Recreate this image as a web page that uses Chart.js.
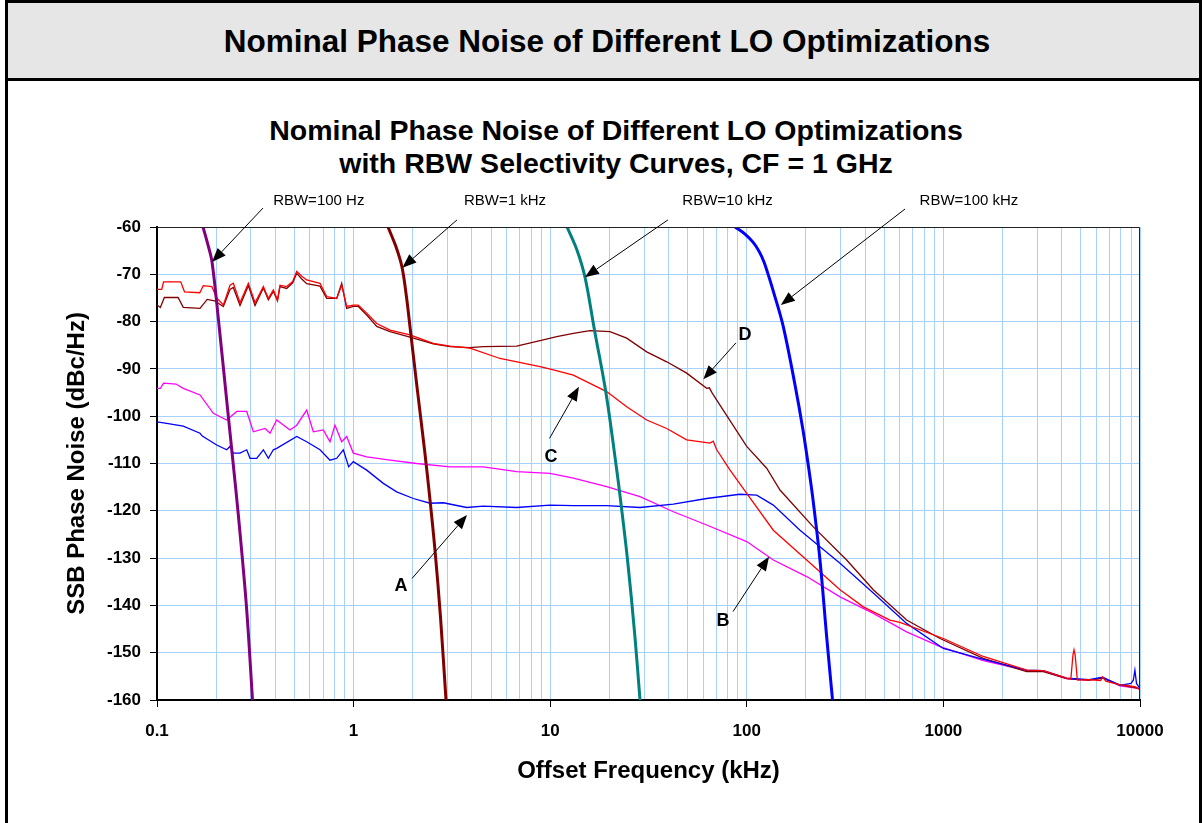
<!DOCTYPE html>
<html>
<head>
<meta charset="utf-8">
<script src="https://cdn.jsdelivr.net/npm/chart.js@4.4.0/dist/chart.umd.min.js"></script>
<style>
html, body { margin: 0; padding: 0; background: #fff; }
body { width: 1203px; height: 823px; overflow: hidden; position: relative; font-family: "Liberation Sans", Arial, sans-serif; }
#moldura { position: absolute; left: 5px; top: 0px; width: 1191px; height: 850px; border: 3px solid #000; }
#cabecalho { position: absolute; left: 0; top: 0; right: 0; height: 75px; background: #e6e6e6; border-bottom: 3px solid #000; }
.texto { position: absolute; text-align: center; font-weight: bold; color: #000; white-space: nowrap; }
#titulo-topo { left: 8px; width: 1198px; top: 42px; font-size: 31.5px; line-height: 1; transform: translateY(-50%); }
#titulo-grafico { left: 0; width: 1232px; top: 114px; font-size: 28.5px; line-height: 33px; }
#grafico { position: absolute; left: 0; top: 0; }
</style>
</head>
<body>
<div id="moldura"><div id="cabecalho"></div></div>
<div class="texto" id="titulo-topo">Nominal Phase Noise of Different LO Optimizations</div>
<div class="texto" id="titulo-grafico">Nominal Phase Noise of Different LO Optimizations<br>with RBW Selectivity Curves, CF = 1 GHz</div>
<canvas id="grafico" width="1203" height="823"></canvas>
<script>
// --- Dados ---

// Eixo X (log): décadas com rótulo
const xDecadas = [0.1, 1, 10, 100, 1000, 10000];
const xRotulos = ['0.1', '1', '10', '100', '1000', '10000'];
const yRotulos = [-60, -70, -80, -90, -100, -110, -120, -130, -140, -150, -160];

// Curvas de seletividade RBW
const rbw100Freq = [0.1714, 0.1817, 0.1905, 0.2055, 0.2296, 0.2444, 0.2598, 0.2852, 0.3061];
const rbw100Db = [-60, -63.8, -67.4, -79.7, -99.3, -110.3, -121.3, -140.3, -160];

const rbw1kFreq = [1.496, 1.643, 1.763, 1.858, 1.936, 2.101, 2.295, 2.447, 2.594, 2.767, 2.951];
const rbw1kDb = [-60, -64.2, -68.5, -74.8, -81.1, -93.8, -107.1, -117.7, -128.3, -142.5, -160];

const rbw10kFreq = [12.18, 13.69, 15.03, 16.8, 19.22, 21.74, 22.79, 24.74, 26.99, 28.63];
const rbw10kDb = [-60, -64.9, -70.6, -81.8, -95.1, -111.0, -117.7, -130.4, -146.7, -160];

const rbw100kFreq = [87.1, 97.9, 107.5, 115.3, 122.3, 129.7, 136.7, 153.4, 175.9, 193.1, 206.0, 217.2, 235.6, 254.9, 272.9];
const rbw100kDb = [-60, -61.5, -63.2, -65.1, -67.4, -70.6, -73.7, -81.1, -93.4, -102.9, -110.7, -117.7, -130.4, -146.7, -160];

// Curva C (vermelha)
const curvaCFreq = [0.1, 0.1057, 0.108, 0.132, 0.138, 0.165, 0.172, 0.19, 0.2012, 0.2175, 0.228, 0.2351, 0.2444,
  0.2644, 0.2915, 0.3152, 0.3475, 0.3685, 0.3906, 0.41, 0.4223, 0.4567, 0.49, 0.5136, 0.545, 0.5773, 0.6747,
  0.7298, 0.8204, 0.8699, 0.922, 0.9965, 1.057, 1.166, 1.311, 1.532, 1.936, 2.543, 3.093, 3.909, 5.555, 8.88,
  10.37, 13.11, 19.37, 24.5, 30.96, 39.14, 49.46, 65.0, 67.5, 70.3, 82.2, 99.9, 136.4, 201.6, 297.9, 391.4,
  535, 601, 999, 1596, 2653, 3222, 4237, 4450, 4560, 4617, 4680, 4800, 5500, 6300, 6457, 6700, 7909, 8900,
  9500, 10000];
const curvaCDb = [-73.2, -73.2, -71.6, -71.6, -73.7, -73.9, -72.4, -72.6, -75.0, -76.5, -74.0, -72.3, -71.9,
  -76.0, -71.9, -76.0, -72.6, -75.1, -73.3, -75.4, -72.3, -72.6, -71.5, -69.4, -70.4, -71.2, -71.9,
  -74.7, -75.1, -72.3, -76.8, -76.5, -76.5, -78.2, -80.4, -81.8, -82.8, -84.6, -85.2, -85.6, -87.8, -89.5,
  -90.2, -91.3, -94.8, -98.0, -100.8, -102.6, -105.0, -105.7, -105.3, -107.1, -111.4, -116.3, -124.1, -130.4, -136.7, -140.3,
  -143.1, -143.6, -147.0, -150.8, -153.7, -153.8, -155.4, -155.5, -150.5, -149.4, -150.5, -155.8, -155.7, -155.9, -155.1, -156.0, -156.8, -157.0,
  -157.2, -157.9];

// Curva D (vinho)
const curvaDFreq = [0.1, 0.104, 0.109, 0.128, 0.136, 0.1655, 0.18, 0.196, 0.2175, 0.2351, 0.2444, 0.2644, 0.2915,
  0.3152, 0.3475, 0.3685, 0.3906, 0.41, 0.4223, 0.4567, 0.49, 0.5136, 0.545, 0.5773, 0.6747, 0.7298, 0.8204,
  0.8699, 0.922, 0.9965, 1.057, 1.166, 1.311, 1.532, 1.936, 2.543, 3.093, 3.909, 4.567, 6.753, 8.88, 10.8,
  13.11, 15.94, 20.14, 24.5, 30.96, 39.14, 49.46, 62.5, 64.5, 66.5, 70.3, 99.9, 126.2, 147.5, 217.9, 322,
  440, 650, 961, 1596, 2653, 3222, 4237, 5500, 6457, 7909, 10000];
const curvaDDb = [-76.5, -77.0, -74.9, -74.9, -77.0, -77.2, -75.3, -75.6, -76.8, -73.2, -72.8, -76.6, -72.4,
  -76.6, -72.9, -75.4, -73.6, -75.6, -72.6, -73.0, -71.8, -69.8, -71.0, -72.0, -72.5, -75.1, -75.1,
  -71.9, -77.2, -76.8, -76.8, -78.6, -81.0, -82.1, -83.3, -84.7, -85.3, -85.5, -85.3, -85.2, -84.0, -83.2,
  -82.5, -81.9, -82.1, -83.5, -86.4, -88.5, -90.9, -94.1, -94.0, -95.0, -96.6, -106.4, -111.0, -115.6, -123.4, -130.4,
  -136.7, -143.1, -147.0, -151.2, -154.0, -154.0, -155.5, -155.8, -155.4, -156.8, -157.6];

// Curva B (magenta)
const curvaBFreq = [0.1, 0.104, 0.108, 0.125, 0.136, 0.1655, 0.1934, 0.2262, 0.2544, 0.286, 0.309, 0.3544,
  0.3757, 0.4063, 0.4748, 0.5136, 0.5773, 0.6237, 0.7015, 0.7586, 0.804, 0.8699, 0.922, 0.9965, 1.166, 1.532,
  2.094, 3.093, 4.567, 6.753, 9.98, 13.11, 19.37, 28.63, 42.3, 62.5, 99.9, 136.4, 201.6, 297.9, 440, 650, 961,
  1596, 2653, 3222, 4237, 5500, 6457, 7909, 10000];
const curvaBDb = [-94.1, -94.1, -93.0, -93.2, -94.1, -95.5, -99.4, -100.8, -99.0, -99.0, -103.3, -102.6,
  -103.6, -100.8, -102.9, -101.9, -98.7, -103.3, -102.9, -105.4, -101.9, -105.4, -104.3, -107.8, -108.6, -109.3,
  -110.0, -110.7, -110.7, -111.7, -112.1, -113.1, -114.9, -117.0, -120.2, -123.0, -126.5, -130.4, -133.9, -138.2, -141.7, -145.6, -148.7,
  -151.7, -153.8, -153.9, -155.5, -155.8, -155.3, -157.0, -157.6];

// Curva A (azul)
const curvaAFreq = [0.1, 0.112, 0.136, 0.1655, 0.17, 0.2012, 0.2262, 0.2351, 0.2444, 0.2644, 0.286, 0.2973,
  0.3214, 0.3475, 0.3685, 0.3906, 0.4063, 0.5136, 0.5773, 0.6747, 0.7586, 0.8204, 0.8867, 0.9436, 0.9965,
  1.166, 1.416, 1.656, 2.013, 2.447, 2.86, 3.76, 4.567, 6.753, 9.98, 13.11, 19.37, 28.63, 42.3, 62.5, 92.3,
  112.3, 136.4, 186.5, 235.6, 297.9, 440, 650, 999, 1596, 2653, 3222, 4237, 5500, 6457, 7909, 9000, 9248,
  9419, 9600, 10000];
const curvaADb = [-101.2, -101.5, -102.1, -103.6, -104.2, -106.1, -107.1, -106.4, -107.8, -107.8, -107.1, -108.9,
  -108.9, -107.1, -108.9, -107.1, -106.8, -104.3, -105.4, -107.1, -109.3, -108.9, -107.1, -110.7, -109.6,
  -111.4, -114.2, -116.0, -117.4, -118.4, -118.3, -119.3, -119.0, -119.3, -118.8, -118.9, -118.9, -119.3, -118.6, -117.4, -116.5,
  -116.7, -118.8, -124.1, -127.6, -131.1, -137.4, -143.8, -149.1, -151.4, -153.7, -153.8, -155.4, -155.7, -155.2, -156.9, -156.5, -155.8,
  -153.7, -156.5, -157.6];

// --- Anotações (posições em coordenadas dos dados) ---
const anotacoes = [
  { texto: 'RBW=100 Hz', tx: 0.665, ty: -54.5, de: [0.346, -56.0], para: [0.1905, -67.4], fonte: 'normal 15px' },
  { texto: 'RBW=1 kHz', tx: 5.89, ty: -54.5, de: [3.357, -58.5], para: [1.77, -68.6], fonte: 'normal 15px' },
  { texto: 'RBW=10 kHz', tx: 79.8, ty: -54.5, de: [39.7, -58.5], para: [15.03, -70.6], fonte: 'normal 15px' },
  { texto: 'RBW=100 kHz', tx: 1349, ty: -54.5, de: [638, -56.2], para: [149, -76.5], fonte: 'normal 15px' },
  { texto: 'D', tx: 97.9, ty: -82.8, de: [88.1, -84.5], para: [60.1, -92.2], fonte: 'bold 18px' },
  { texto: 'C', tx: 10.1, ty: -108.7, de: [9.92, -104.7], para: [14.0, -93.8], fonte: 'bold 18px' },
  { texto: 'A', tx: 1.74, ty: -135.9, de: [1.983, -134.3], para: [3.776, -120.9], fonte: 'bold 18px' },
  { texto: 'B', tx: 75.7, ty: -143.4, de: [85.1, -141.3], para: [129.7, -129.7], fonte: 'bold 18px' }
];

const FONTE = '"Liberation Sans", Arial, sans-serif';

// Junta arrays de frequência e dB em pontos {x, y}
function pontos(freqs, dbs) {
    return freqs.map((f, i) => ({ x: f, y: dbs[i] }));
}

function serie(freqs, dbs, cor, largura, tensao) {
    return {
        data: pontos(freqs, dbs),
        borderColor: cor,
        borderWidth: largura,
        pointRadius: 0,
        tension: tensao,
        fill: false
    };
}

// Linhas de grade do eixo X: 1..9 x cada década
const xGrade = [];
for (let i = 0; i < xDecadas.length - 1; i++) {
    for (let m = 1; m <= 9; m++) xGrade.push(xDecadas[i] * m);
}
xGrade.push(xDecadas[xDecadas.length - 1]);

function indiceDecada(v) {
    return xDecadas.findIndex(d => Math.abs(v - d) / d < 1e-9);
}

// Plugin: borda da área do gráfico e setas com rótulos
const pluginAnotacoes = {
    id: 'anotacoes',
    afterDatasetsDraw(chart) {
        const { ctx, chartArea: a, scales: { x, y } } = chart;
        ctx.save();
        ctx.strokeStyle = '#222';
        ctx.lineWidth = 1;
        ctx.beginPath();
        ctx.moveTo(a.left, a.top + 0.5);
        ctx.lineTo(a.right - 0.5, a.top + 0.5);
        ctx.lineTo(a.right - 0.5, a.bottom);
        ctx.stroke();

        anotacoes.forEach(n => {
            const x0 = x.getPixelForValue(n.de[0]), y0 = y.getPixelForValue(n.de[1]);
            const x1 = x.getPixelForValue(n.para[0]), y1 = y.getPixelForValue(n.para[1]);
            const ang = Math.atan2(y1 - y0, x1 - x0);
            const comp = 14, meia = 5.5;
            const bx = x1 - comp * Math.cos(ang), by = y1 - comp * Math.sin(ang);

            ctx.strokeStyle = '#000';
            ctx.lineWidth = 1;
            ctx.beginPath();
            ctx.moveTo(x0, y0);
            ctx.lineTo(bx, by);
            ctx.stroke();

            ctx.fillStyle = '#000';
            ctx.beginPath();
            ctx.moveTo(x1, y1);
            ctx.lineTo(bx + meia * Math.sin(ang), by - meia * Math.cos(ang));
            ctx.lineTo(bx - meia * Math.sin(ang), by + meia * Math.cos(ang));
            ctx.closePath();
            ctx.fill();

            ctx.font = n.fonte + ' ' + FONTE;
            ctx.textAlign = 'center';
            ctx.textBaseline = 'middle';
            ctx.fillText(n.texto, x.getPixelForValue(n.tx), y.getPixelForValue(n.ty));
        });
        ctx.restore();
    }
};

const ctx = document.getElementById('grafico').getContext('2d');

new Chart(ctx, {
    type: 'line',
    data: {
        datasets: [
            serie(rbw100kFreq, rbw100kDb, '#0000ff', 3, 0.35),
            serie(rbw10kFreq, rbw10kDb, '#008080', 3, 0.35),
            serie(rbw1kFreq, rbw1kDb, '#800000', 3, 0.35),
            serie(rbw100Freq, rbw100Db, '#800080', 3, 0.35),
            serie(curvaCFreq, curvaCDb, '#ff0000', 1.3, 0),
            serie(curvaAFreq, curvaADb, '#0000ff', 1.3, 0),
            serie(curvaDFreq, curvaDDb, '#800000', 1.3, 0),
            serie(curvaBFreq, curvaBDb, '#ff00ff', 1.3, 0)
        ]
    },
    options: {
        responsive: false,
        animation: false,
        layout: { padding: { left: 63, right: 63, top: 227, bottom: 37 } },
        plugins: {
            legend: { display: false },
            tooltip: { enabled: false }
        },
        scales: {
            x: {
                type: 'logarithmic',
                min: xDecadas[0],
                max: xDecadas[xDecadas.length - 1],
                afterBuildTicks: escala => { escala.ticks = xGrade.map(v => ({ value: v })); },
                afterFit: escala => { escala.height = 86; },
                ticks: {
                    autoSkip: false,
                    maxRotation: 0,
                    padding: 14,
                    color: '#000',
                    font: { family: FONTE, size: 17, weight: 'bold' },
                    callback: v => {
                        const i = indiceDecada(v);
                        return i >= 0 ? xRotulos[i] : '';
                    }
                },
                grid: {
                    color: '#a6d2ff',
                    lineWidth: 1,
                    tickLength: 7,
                    tickColor: c => (c.tick && indiceDecada(c.tick.value) >= 0) ? '#000' : 'rgba(0,0,0,0)'
                },
                border: { color: '#000', width: 2 },
                title: {
                    display: true,
                    text: 'Offset Frequency (kHz)',
                    color: '#000',
                    font: { family: FONTE, size: 24, weight: 'bold' },
                    padding: { top: 0, bottom: 0 }
                }
            },
            y: {
                min: yRotulos[yRotulos.length - 1],
                max: yRotulos[0],
                afterFit: escala => { escala.width = 94; },
                ticks: {
                    stepSize: 10,
                    padding: 9,
                    color: '#000',
                    font: { family: FONTE, size: 17, weight: 'bold' }
                },
                grid: {
                    color: '#a6d2ff',
                    lineWidth: 1,
                    tickLength: 7,
                    tickColor: '#000'
                },
                border: { color: '#000', width: 2 },
                title: {
                    display: true,
                    text: 'SSB Phase Noise (dBc/Hz)',
                    color: '#000',
                    font: { family: FONTE, size: 24, weight: 'bold' },
                    padding: { top: 0, bottom: 0 }
                }
            }
        }
    },
    plugins: [pluginAnotacoes]
});
</script>
</body>
</html>
